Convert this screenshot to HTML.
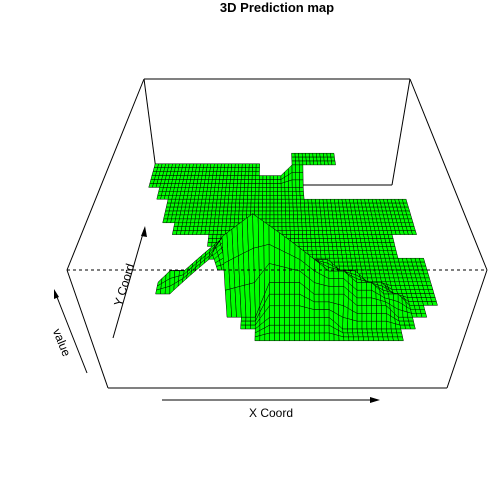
<!DOCTYPE html>
<html><head><meta charset="utf-8"><style>
body{margin:0;background:#fff}
svg{display:block;font-family:"Liberation Sans",Arial,sans-serif}
</style></head><body>
<svg id="chart" width="504" height="504" viewBox="0 0 504 504">
<rect width="504" height="504" fill="#fff"/>
<text x="277" y="12" text-anchor="middle" font-size="13" font-weight="bold">3D Prediction map</text>
<g stroke="#000" stroke-width="1" fill="none">
<line x1="144" y1="79" x2="410" y2="79"/>
<line x1="144" y1="79" x2="158" y2="185"/>
<line x1="410" y1="79" x2="392" y2="185"/>
<line x1="158" y1="185" x2="392" y2="185"/>
</g>
<g id="surface"></g>
<g stroke="#000" stroke-width="1" fill="none">
<line x1="144" y1="79" x2="67" y2="270"/>
<line x1="410" y1="79" x2="487" y2="270"/>
<line x1="67" y1="270" x2="108" y2="388"/>
<line x1="487" y1="270" x2="447" y2="388"/>
<line x1="108" y1="388" x2="447" y2="388"/>
<line x1="67" y1="270" x2="487" y2="270" stroke-dasharray="3,3"/>
</g>
<g>
<line x1="162" y1="400" x2="378" y2="400" stroke="#000"/>
<path d="M380,400 L370,397 L370,403 Z" fill="#000"/>
<text x="271" y="417" text-anchor="middle" font-size="12">X Coord</text>
</g>
<g>
<line x1="113" y1="338" x2="144" y2="230" stroke="#000"/>
<path d="M145,226 L141,236 L147,237 Z" fill="#000"/>
<text transform="translate(128,286) rotate(-73)" text-anchor="middle" font-size="12">Y Coord</text>
</g>
<g>
<line x1="87" y1="373" x2="55" y2="292" stroke="#000"/>
<path d="M54,289 L54,299 L59,297 Z" fill="#000"/>
<text transform="translate(58,344) rotate(68)" text-anchor="middle" font-size="12">value</text>
</g>
</svg>
<script>
const N = null;
// heights (x10) on an 18-row (back to front) x 24-column grid; null = no prediction
const heights = [
[2,2,2,2,2,2,2,2,2,2,2,N,N,3,3,3,3,3,3,N,N,N,N,N],
[2,2,2,2,2,2,2,2,2,2,2,2,2,3,3,3,3,3,N,N,N,N,N,N],
[2,2,2,2,2,2,2,2,2,2,2,2,2,2,2,N,N,N,N,N,N,N,N,N],
[N,2,2,2,2,2,2,2,2,2,2,2,2,2,2,2,2,2,2,2,2,2,2,2],
[N,N,2,2,2,2,2,2,2,2,2,2,2,2,2,2,2,2,2,2,2,2,2,2],
[N,N,2,2,2,2,2,2,2,2,2,2,2,2,2,2,2,2,2,2,2,2,2,2],
[N,N,N,2,2,2,2,2,2,2,2,2,2,2,2,2,2,2,2,2,2,2,2,2],
[N,N,N,N,N,N,2,2,2,2,2,2,2,2,2,2,2,2,2,2,2,2,N,N],
[N,N,N,N,N,N,N,2,2,2,3,2,2,2,2,2,2,2,2,2,2,2,2,2],
[N,N,N,N,N,N,N,2,2,3,4,3,3,2,2,2,2,2,2,2,2,2,2,2],
[N,N,N,2,3,3,4,4,5,5,6,5,4,4,4,3,3,2,2,2,2,2,2,2],
[N,N,N,3,4,4,5,6,7,8,9,7,6,6,5,5,4,4,3,3,2,2,2,2],
[N,N,N,3,3,4,5,6,8,9,10,9,8,7,6,5,5,4,4,3,3,2,2,2],
[N,N,N,N,N,N,N,N,2,2,2,5,5,5,4,4,4,3,3,3,2,2,2,N],
[N,N,N,N,N,N,N,N,N,2,2,3,3,3,3,3,2,2,2,2,2,2,N,N],
[N,N,N,N,N,N,N,N,N,N,2,2,2,2,2,2,2,2,2,2,2,N,N,N]
];
const nRows = 18;
const nCols = 24;
function proj(u, v, w) {
  const bFL=[108,388], bFR=[447,388], bBL=[158,185], bBR=[392,185];
  const tFL=[67,270], tFR=[487,270], tBL=[144,79], tBR=[410,79];
  function bil(a,b,c,d){
    const f=[a[0]+(b[0]-a[0])*u, a[1]+(b[1]-a[1])*u];
    const k=[c[0]+(d[0]-c[0])*u, c[1]+(d[1]-c[1])*u];
    return [f[0]+(k[0]-f[0])*v, f[1]+(k[1]-f[1])*v];
  }
  const p0=bil(bFL,bFR,bBL,bBR), p1=bil(tFL,tFR,tBL,tBR);
  return [p0[0]+(p1[0]-p0[0])*w, p0[1]+(p1[1]-p0[1])*w];
}
function uOf(c){return c/(nCols-1);}
function vOf(r){return 1 - r/(nRows-1);}
const g = document.getElementById('surface');
const NS = 'http://www.w3.org/2000/svg';
const SUB = 3;
for (let r = 0; r < heights.length - 1; r++) {
  for (let i = 0; i < SUB; i++) {
    for (let c = 0; c < nCols - 1; c++) {
      const h00=heights[r][c], h01=heights[r][c+1], h10=heights[r+1][c], h11=heights[r+1][c+1];
      if (h00===null||h01===null||h10===null||h11===null) continue;
      for (let j = 0; j < SUB; j++) {
        const pts = [[i,j],[i,j+1],[i+1,j+1],[i+1,j]].map(([a,b])=>{
          const fr=a/SUB, fc=b/SUB;
          const h=(h00*(1-fc)+h01*fc)*(1-fr)+(h10*(1-fc)+h11*fc)*fr;
          return proj(uOf(c+fc), vOf(r+fr), h/10);
        });
        const poly = document.createElementNS(NS,'polygon');
        poly.setAttribute('points', pts.map(p=>p[0].toFixed(1)+','+p[1].toFixed(1)).join(' '));
        poly.setAttribute('fill','#00ff00');
        poly.setAttribute('stroke','#000');
        poly.setAttribute('stroke-width','0.5');
        
        
        g.appendChild(poly);
      }
    }
  }
}
</script>
</body></html>
